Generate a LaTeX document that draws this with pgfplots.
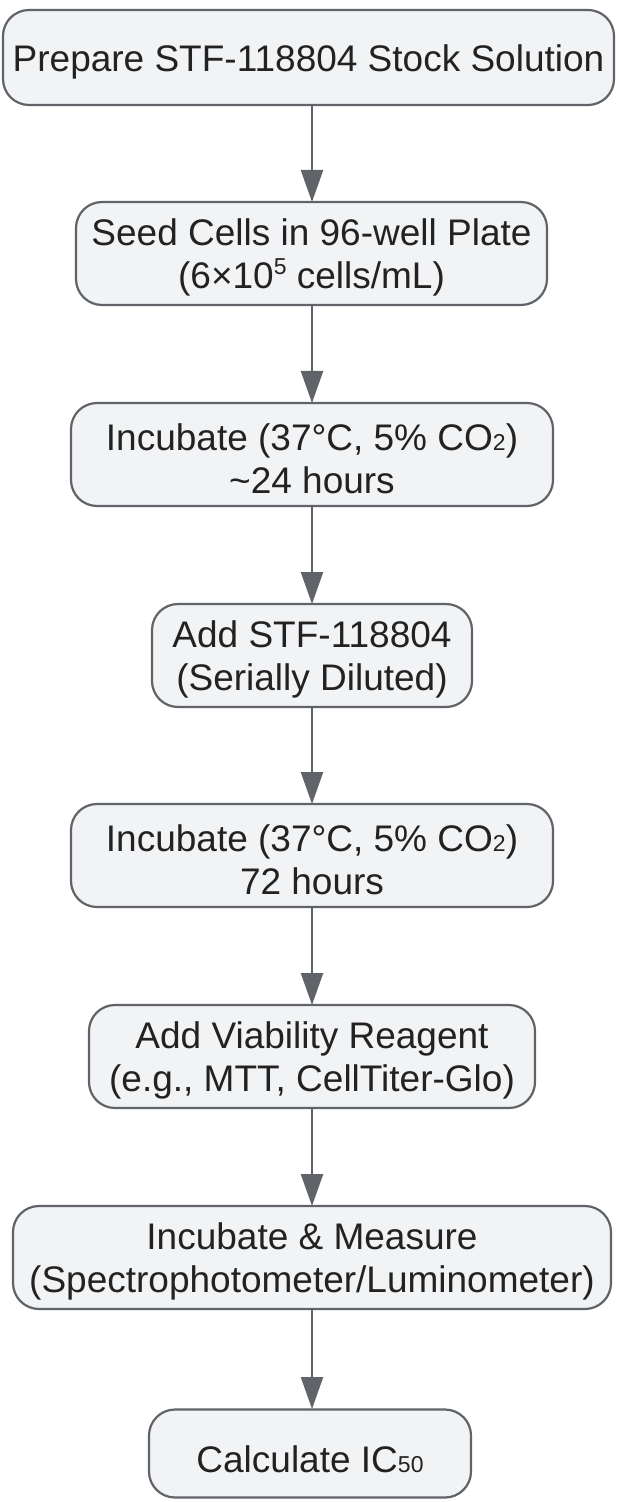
\documentclass[border=0pt]{standalone}
\usepackage{fontspec}
\setmainfont{Liberation Sans}
\usepackage{pgfplots}
\pgfplotsset{compat=1.18}
\usetikzlibrary{arrows.meta}
\definecolor{boxfill}{HTML}{F2F3F5}
\definecolor{boxline}{HTML}{606368}
\definecolor{txt}{HTML}{222222}
\newcommand{\sub}[1]{{\fontsize{11.5}{11.5}\selectfont #1}}
\newcommand{\supr}[1]{\raisebox{0.72ex}{\sub{#1}}}
\begin{document}
\begin{tikzpicture}[
  box/.style={draw=boxline, line width=1.1pt, fill=boxfill, rounded corners=13pt,
    inner sep=0pt, minimum height=51.5pt},
  lbl/.style={text=txt, font=\fontsize{18.5}{21.5}\selectfont, align=center,
    inner sep=0pt, yshift=-2pt},
  link/.style={boxline, line width=1.2pt,
    -{Triangle[length=16pt,width=11pt]}},
]
\begin{axis}[
  x=0.5pt, y=0.5pt,
  xmin=0, xmax=618, ymin=0, ymax=1502,
  y dir=reverse,
  hide axis, clip=false,
]
\path (axis cs:0,0) rectangle (axis cs:618,1502);
% connectors (image pixel coordinates, y downwards)
\addplot[link, mark=none] coordinates {(312,105) (312,202)};
\addplot[link, mark=none] coordinates {(312,305) (312,403)};
\addplot[link, mark=none] coordinates {(312,506) (312,604)};
\addplot[link, mark=none] coordinates {(312,707) (312,804)};
\addplot[link, mark=none] coordinates {(312,907) (312,1005)};
\addplot[link, mark=none] coordinates {(312,1108) (312,1206)};
\addplot[link, mark=none] coordinates {(312,1309) (312,1409)};
% step boxes
\node[box, minimum width=305.5pt, minimum height=47.5pt] at (axis cs:308.5,57.5) {};
\node[box, minimum width=235.5pt] at (axis cs:311.5,253.5) {};
\node[box, minimum width=241pt] at (axis cs:312,454.5) {};
\node[box, minimum width=160pt] at (axis cs:312,655.5) {};
\node[box, minimum width=241pt] at (axis cs:312,855.5) {};
\node[box, minimum width=223pt] at (axis cs:312,1056.5) {};
\node[box, minimum width=299pt] at (axis cs:312,1257.5) {};
\node[box, minimum width=161pt, minimum height=44pt] at (axis cs:310,1453.5) {};
% step labels
\node[lbl] at (axis cs:308.5,57.5) {Prepare STF-118804 Stock Solution};
\node[lbl] at (axis cs:311.5,253.5) {Seed Cells in 96-well Plate\\(6×10\supr{5} cells/mL)};
\node[lbl] at (axis cs:312,454.5) {Incubate (37°C, 5\% CO\sub{2})\\\textasciitilde24 hours};
\node[lbl] at (axis cs:312,655.5) {Add STF-118804\\(Serially Diluted)};
\node[lbl] at (axis cs:312,855.5) {Incubate (37°C, 5\% CO\sub{2})\\72 hours};
\node[lbl] at (axis cs:312,1056.5) {Add Viability Reagent\\(e.g., MTT, CellTiter-Glo)};
\node[lbl] at (axis cs:312,1257.5) {Incubate \& Measure\\(Spectrophotometer/Luminometer)};
\node[lbl] at (axis cs:310,1455.5) {Calculate IC\sub{50}};
\end{axis}
\end{tikzpicture}
\end{document}
